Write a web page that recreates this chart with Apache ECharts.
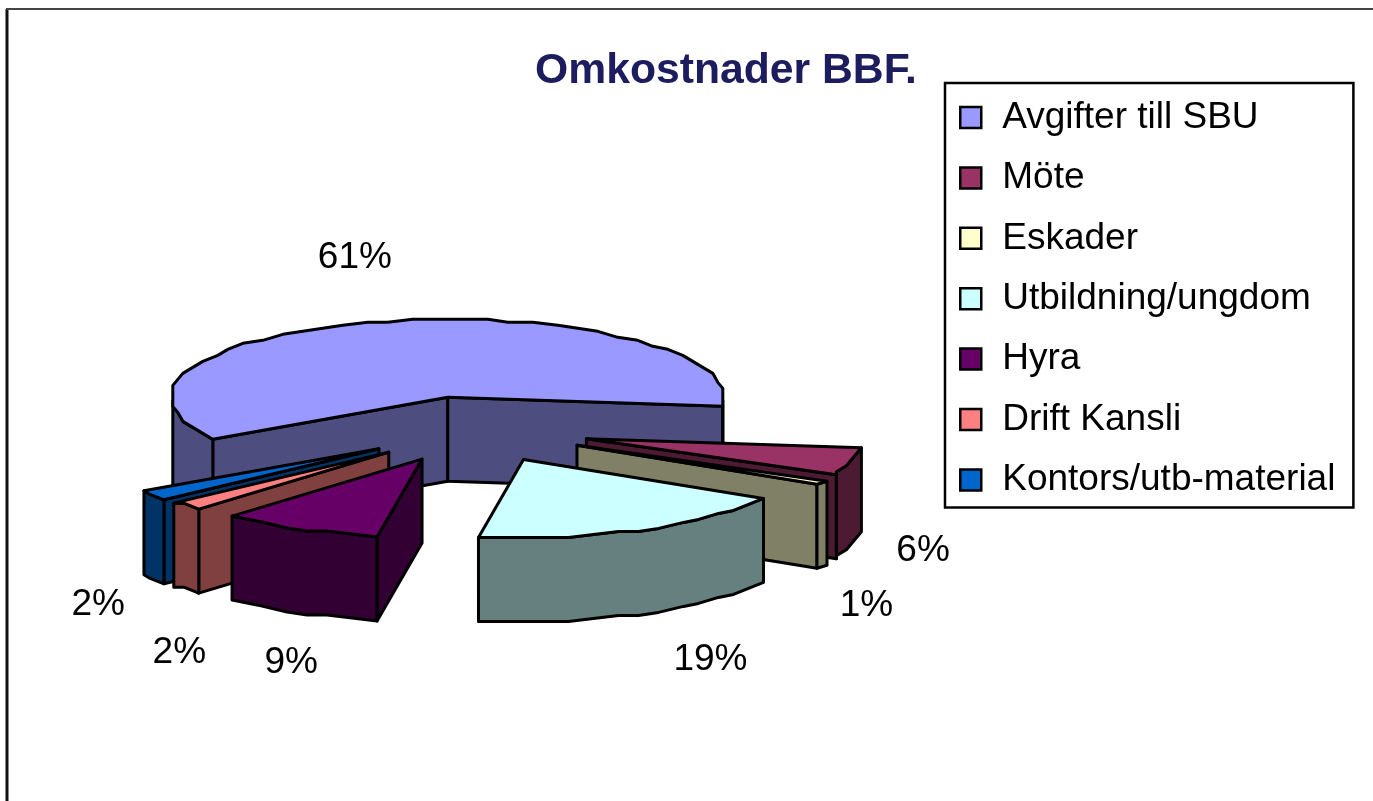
<!DOCTYPE html>
<html>
<head>
<meta charset="utf-8">
<title>Omkostnader BBF.</title>
<script src="https://cdn.jsdelivr.net/npm/echarts@6/dist/echarts.min.js"></script>
<style>
	html, body { margin: 0; padding: 0; background: #fff; }
	#main { width: 1373px; height: 801px; }
</style>
</head>
<body>
<div id="main"></div>
<script>
var categories = ['Avgifter till SBU', 'Möte', 'Eskader', 'Utbildning/ungdom', 'Hyra', 'Drift Kansli', 'Kontors/utb-material'];
var values = [60.6, 5.7, 1.0, 19.3, 9.2, 2.1, 2.1];
var topColors = ['#9999FF', '#993366', '#FFFFCC', '#CCFFFF', '#660066', '#FF8080', '#0066CC'];
var sideColors = ['#4D4D80', '#4D1A33', '#808066', '#668080', '#330033', '#804040', '#003366'];

// painter's order, back to front
var drawOrder = [0, 1, 2, 6, 5, 4, 3];
// label nudge from the middle of each slice's outer edge
var labelOffsets = [[-31, -64], [71, 6], [46, 39], [70, 46], [-8, 50], [-8, 63], [-56, 26]];

var cx = 474, cy = 429.5, rx = 277, ry = 78, depth = 84;
var explode = 0.423;
var startAngle = 212;
var font = '"Liberation Sans", Arial, sans-serif';

var total = values.reduce(function (a, b) { return a + b; }, 0);

// the source picture has a coarse, stepped outline, so snap the arc to a grid
function arcPoint(deg) {
	var r = deg * Math.PI / 180;
	return [
		Math.round(rx * Math.cos(r) / 5) * 5,
		Math.round(-ry * Math.sin(r) / 3) * 3
	];
}

function renderSlice(params, api) {
	var i = params.seriesIndex;
	var before = 0;
	for (var k = 0; k < i; k++) before += values[k];
	var a0 = startAngle - before / total * 360;
	var a1 = a0 - api.value(0) / total * 360;
	var mid = (a0 + a1) / 2 * Math.PI / 180;
	var ox = cx + explode * rx * Math.cos(mid);
	var oy = cy - explode * ry * Math.sin(mid);

	var arc = [];
	var angles = [];
	for (var a = a0; a > a1; a -= 5) angles.push(a);
	angles.push(a1);
	angles.forEach(function (d) {
		var p = arcPoint(d);
		arc.push({ x: ox + p[0], y: oy + p[1], front: Math.sin(d * Math.PI / 180) < 0.02 });
	});

	function poly(points, fill) {
		return {
			type: 'polygon',
			shape: { points: points },
			style: { fill: fill, stroke: '#000', lineWidth: 3, lineJoin: 'round' }
		};
	}
	var children = [];
	var first = arc[0], last = arc[arc.length - 1];
	// a cut face is only seen when it turns towards the viewer
	if (Math.cos(a0 * Math.PI / 180) < 0) {
		children.push(poly([[ox, oy], [first.x, first.y], [first.x, first.y + depth], [ox, oy + depth]], sideColors[i]));
	}
	if (Math.cos(a1 * Math.PI / 180) > 0) {
		children.push(poly([[ox, oy], [last.x, last.y], [last.x, last.y + depth], [ox, oy + depth]], sideColors[i]));
	}

	// outer wall, only the runs of the arc that face the viewer
	var run = [];
	function flush() {
		if (run.length > 1) {
			var pts = run.map(function (p) { return [p.x, p.y]; });
			var low = run.slice().reverse().map(function (p) { return [p.x, p.y + depth]; });
			children.push(poly(pts.concat(low), sideColors[i]));
		}
		run = [];
	}
	arc.forEach(function (p) {
		if (p.front) run.push(p); else flush();
	});
	flush();

	var top = [[ox, oy]].concat(arc.map(function (p) { return [p.x, p.y]; }));
	children.push(poly(top, topColors[i]));

	var front = Math.sin(mid) < 0;
	children.push({
		type: 'text',
		style: {
			text: Math.round(api.value(0) / total * 100) + '%',
			x: ox + rx * Math.cos(mid) + labelOffsets[i][0],
			y: oy - ry * Math.sin(mid) + (front ? depth : 0) + labelOffsets[i][1],
			align: 'center',
			verticalAlign: 'middle',
			font: '37px ' + font,
			fill: '#000'
		}
	});
	return { type: 'group', children: children };
}

var chart = echarts.init(document.getElementById('main'), null, { renderer: 'canvas' });
chart.setOption({
	animation: false,
	title: {
		text: 'Omkostnader BBF.',
		left: 535,
		top: 50,
		padding: 0,
		textStyle: { fontFamily: font, fontSize: 42.7, fontWeight: 'bold', color: '#1C1C5E' }
	},
	legend: {
		orient: 'vertical',
		left: 945,
		top: 83,
		data: categories,
		icon: 'rect',
		itemWidth: 21,
		itemHeight: 21,
		itemGap: 23.4,
		padding: [16, 18, 9, 14],
		backgroundColor: '#fff',
		borderColor: '#000',
		borderWidth: 2.5,
		selectedMode: false,
		itemStyle: { borderColor: '#000', borderWidth: 2.5 },
		textStyle: { fontFamily: font, fontSize: 37, color: '#000', padding: [0, 0, 0, 16] }
	},
	graphic: [{
		type: 'polyline',
		shape: { points: [[7, 801], [7, 9]] },
		style: { fill: null, stroke: '#111', lineWidth: 3 }
	}, {
		type: 'polyline',
		shape: { points: [[6, 9], [1373, 9]] },
		style: { fill: null, stroke: '#444', lineWidth: 2 }
	}],
	series: categories.map(function (name, i) {
		return {
			type: 'custom',
			name: name,
			coordinateSystem: 'none',
			z: drawOrder.indexOf(i) + 2,
			itemStyle: { color: topColors[i] },
			renderItem: renderSlice,
			data: [[values[i]]]
		};
	})
});
</script>
</body>
</html>
